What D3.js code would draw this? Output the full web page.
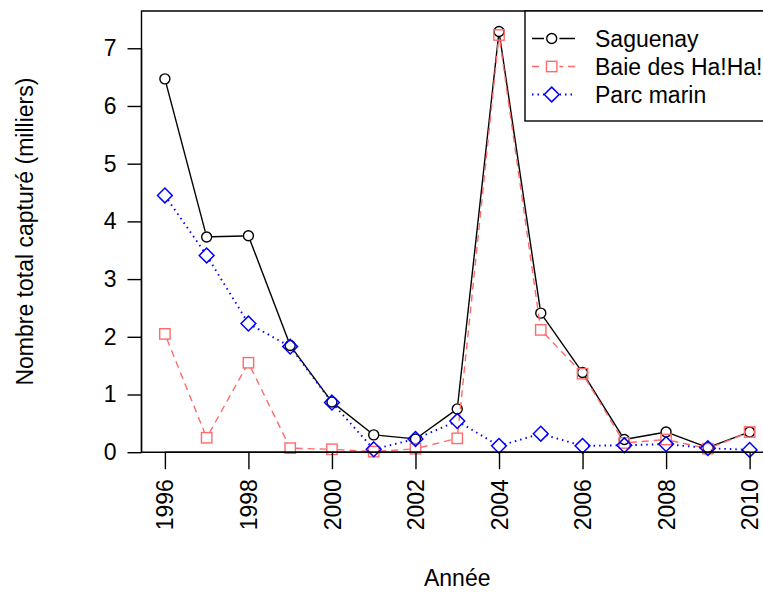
<!DOCTYPE html>
<html><head><meta charset="utf-8">
<script src="https://cdn.jsdelivr.net/npm/d3@7"></script>
<style>body{margin:0;background:#fff}svg{display:block}</style>
</head><body>
<script>
const years = [1996,1997,1998,1999,2000,2001,2002,2003,2004,2005,2006,2007,2008,2009,2010];
const saguenay = [6.47,3.73,3.75,1.85,0.87,0.30,0.23,0.75,7.29,2.41,1.38,0.22,0.35,0.08,0.35];
const baie = [2.05,0.25,1.55,0.07,0.05,0.01,0.06,0.24,7.23,2.12,1.36,0.16,0.22,0.06,0.35];
const parc = [4.45,3.41,2.23,1.83,0.86,0.05,0.23,0.54,0.11,0.32,0.11,0.12,0.14,0.07,0.04];
const xTicks = [1996,1998,2000,2002,2004,2006,2008,2010];
const yTicks = [0,1,2,3,4,5,6,7];
const seriesNames = ["Saguenay","Baie des Ha!Ha!","Parc marin"];

const W=763,H=592;
const L=141.5, R=773, T=11, B=452.2;
const font="Liberation Sans, Arial, sans-serif", fs=23;
const svg=d3.select("body").append("svg").attr("width",W).attr("height",H);
const x=d3.scaleLinear().domain([1995.44,2010.56]).range([L,R]);
const y=d3.scaleLinear().domain([0,7.646]).range([B,T]);

const series=[
 {name:seriesNames[0],vals:saguenay,color:"#000000",dash:null,shape:"circle"},
 {name:seriesNames[1],vals:baie,color:"#FF6B6B",dash:"7,5",shape:"square"},
 {name:seriesNames[2],vals:parc,color:"#0000FF",dash:"1.5,4",shape:"diamond"}
];
const gap=5.5;
function marker(g,shape,cx,cy,color){
  if(shape==="circle") g.append("circle").attr("cx",cx).attr("cy",cy).attr("r",5).attr("fill","none").attr("stroke",color).attr("stroke-width",1.4);
  else if(shape==="square") g.append("rect").attr("x",cx-5.2).attr("y",cy-5.2).attr("width",10.4).attr("height",10.4).attr("fill","none").attr("stroke",color).attr("stroke-width",1.4);
  else g.append("path").attr("d",`M${cx},${cy-7.4}L${cx+7.4},${cy}L${cx},${cy+7.4}L${cx-7.4},${cy}Z`).attr("fill","none").attr("stroke",color).attr("stroke-width",1.5);
}
const plot=svg.append("g");
series.forEach(s=>{
  const g=plot.append("g");
  for(let i=0;i<years.length-1;i++){
    const x1=x(years[i]),y1=y(s.vals[i]),x2=x(years[i+1]),y2=y(s.vals[i+1]);
    const d=Math.hypot(x2-x1,y2-y1); if(d<=2*gap) continue;
    const ux=(x2-x1)/d,uy=(y2-y1)/d;
    g.append("line").attr("x1",x1+ux*gap).attr("y1",y1+uy*gap).attr("x2",x2-ux*gap).attr("y2",y2-uy*gap)
     .attr("stroke",s.color).attr("stroke-width",s.shape==="diamond"?1.9:1.4).attr("stroke-dasharray",s.dash);
  }
  years.forEach((yr,i)=>marker(g,s.shape,x(yr),y(s.vals[i]),s.color));
});

// box (left, top, bottom)
svg.append("path").attr("d",`M${R},${T}H${L}V${B}H${R}`).attr("fill","none").attr("stroke","#000").attr("stroke-width",1.4);

// y axis
const ya=svg.append("g").attr("transform",`translate(${L},0)`).call(d3.axisLeft(y).tickValues(yTicks).tickSize(14).tickPadding(11).tickFormat(d3.format("d")));
ya.select(".domain").attr("d",`M-0,${y(0)}V${y(7)}`).attr("stroke-width",1.4);
ya.selectAll(".tick line").attr("stroke-width",1.4);
ya.selectAll("text").attr("font-family",font).attr("font-size",fs).attr("fill","#000");

// x axis
const xa=svg.append("g").attr("transform",`translate(0,${B})`).call(d3.axisBottom(x).tickValues(xTicks).tickSize(17).tickFormat(d3.format("d")));
xa.select(".domain").attr("d",`M${x(1996)},0H${x(2010)}`).attr("stroke-width",1.4);
xa.selectAll(".tick line").attr("stroke-width",1.4);
xa.selectAll("text").attr("font-family",font).attr("font-size",fs).attr("fill","#000")
  .attr("transform","rotate(-90)").attr("x",-27).attr("y",0).attr("dy","0.35em").attr("text-anchor","end");

// titles
svg.append("text").attr("x",(L+R)/2).attr("y",586).attr("text-anchor","middle").attr("font-family",font).attr("font-size",fs).text("Année");
svg.append("text").attr("transform",`translate(33,${(T+B)/2}) rotate(-90)`).attr("text-anchor","middle").attr("font-family",font).attr("font-size",fs).text("Nombre total capturé (milliers)");

// legend
const lg=svg.append("g");
lg.append("rect").attr("x",525).attr("y",T).attr("width",R-525).attr("height",110).attr("fill","#fff").attr("stroke","#000").attr("stroke-width",1.4);
const rowY=[38.5,66.5,94.5];
series.forEach((s,i)=>{
  const cy=rowY[i];
  lg.append("line").attr("x1",532).attr("x2",575).attr("y1",cy).attr("y2",cy).attr("stroke",s.color).attr("stroke-width",s.shape==="diamond"?1.9:1.4).attr("stroke-dasharray",s.dash);
  lg.append("rect").attr("x",544).attr("y",cy-7.5).attr("width",15.4).attr("height",15).attr("fill","#fff");
  marker(lg,s.shape,551.7,cy,s.color);
  lg.append("text").attr("x",595).attr("y",cy).attr("dy","0.35em").attr("font-family",font).attr("font-size",fs).text(s.name);
});
</script>
</body></html>
